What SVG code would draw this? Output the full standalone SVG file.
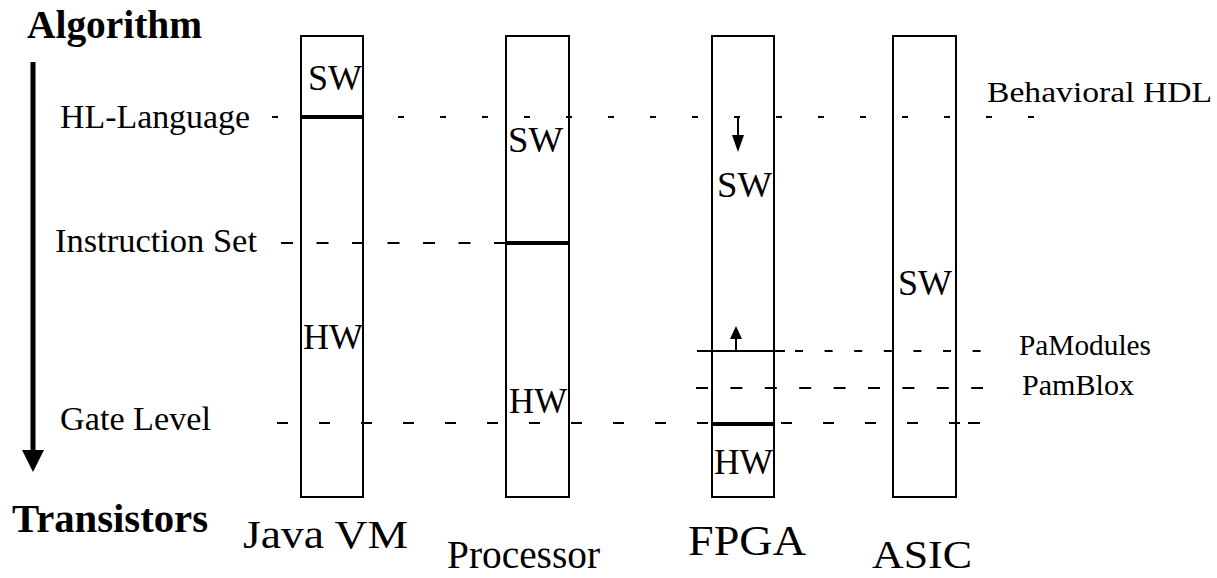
<svg xmlns="http://www.w3.org/2000/svg" width="1217" height="578" viewBox="0 0 1217 578">
<style>
text{font-family:"Liberation Serif","Times New Roman",serif;fill:#000}
.b{font-weight:bold}
.box{fill:none;stroke:#000;stroke-width:2}
.thick{stroke:#000;stroke-width:4}
.thin{stroke:#000;stroke-width:2}
.dash{stroke:#000;stroke-width:2;fill:none}
</style>
<rect width="1217" height="578" fill="#fff"/>
<g id="axis">
<line x1="33" y1="62" x2="33" y2="452" stroke="#000" stroke-width="5"/>
<polygon points="22,450 44,450 33,472" fill="#000"/>
<text class="b" x="27" y="38" font-size="39" textLength="175" lengthAdjust="spacingAndGlyphs">Algorithm</text>
<text class="b" x="12" y="532" font-size="40" textLength="196" lengthAdjust="spacingAndGlyphs">Transistors</text>
</g>
<g id="levels">
<text x="60" y="128" font-size="33" textLength="190" lengthAdjust="spacingAndGlyphs">HL-Language</text>
<text x="55" y="252" font-size="33" textLength="202" lengthAdjust="spacingAndGlyphs">Instruction Set</text>
<text x="60" y="430" font-size="33" textLength="151" lengthAdjust="spacingAndGlyphs">Gate Level</text>
<text x="987" y="102" font-size="30" textLength="225" lengthAdjust="spacingAndGlyphs">Behavioral HDL</text>
<text x="1019" y="355" font-size="29" textLength="132" lengthAdjust="spacingAndGlyphs">PaModules</text>
<text x="1022" y="395" font-size="29" textLength="112" lengthAdjust="spacingAndGlyphs">PamBlox</text>
</g>
<g id="connectors">
<line class="dash" x1="272" y1="117" x2="1034" y2="117" stroke-dasharray="6 36"/>
<line class="dash" x1="281" y1="243" x2="506" y2="243" stroke-dasharray="12 23.5"/>
<line class="dash" x1="277" y1="423" x2="960" y2="423" stroke-dasharray="11 31"/>
<line class="dash" x1="968" y1="423" x2="980" y2="423"/>
<line class="thin" x1="697" y1="351" x2="785" y2="351"/>
<line class="dash" x1="795" y1="351" x2="981" y2="351" stroke-dasharray="8 21.6"/>
<line class="dash" x1="696" y1="388" x2="983" y2="388" stroke-dasharray="12 22.4"/>
<line class="thin" x1="738" y1="116" x2="738" y2="136"/>
<polygon points="732,135 744,135 738,152" fill="#000"/>
<line class="thin" x1="736" y1="351" x2="736" y2="338"/>
<polygon points="730,339 742,339 736,326" fill="#000"/>
</g>
<g id="javavm">
<rect class="box" x="301" y="36" width="62" height="461"/>
<line class="thick" x1="300" y1="117" x2="364" y2="117"/>
<text x="308" y="90" font-size="35" textLength="54" lengthAdjust="spacingAndGlyphs">SW</text>
<text x="303" y="349" font-size="35" textLength="60" lengthAdjust="spacingAndGlyphs">HW</text>
<text x="243" y="548" font-size="40" textLength="165" lengthAdjust="spacingAndGlyphs">Java VM</text>
</g>
<g id="processor">
<rect class="box" x="506" y="36" width="63" height="461"/>
<line class="thick" x1="505" y1="243" x2="570" y2="243"/>
<text x="508" y="152" font-size="35" textLength="55" lengthAdjust="spacingAndGlyphs">SW</text>
<text x="509" y="413" font-size="35" textLength="58" lengthAdjust="spacingAndGlyphs">HW</text>
<text x="447" y="568" font-size="40" textLength="153" lengthAdjust="spacingAndGlyphs">Processor</text>
</g>
<g id="fpga">
<rect class="box" x="712" y="36" width="62" height="461"/>
<line class="thick" x1="711" y1="424" x2="775" y2="424"/>
<text x="717" y="197" font-size="35" textLength="55" lengthAdjust="spacingAndGlyphs">SW</text>
<text x="714" y="474" font-size="35" textLength="59" lengthAdjust="spacingAndGlyphs">HW</text>
<text x="688" y="555" font-size="43" textLength="118" lengthAdjust="spacingAndGlyphs">FPGA</text>
</g>
<g id="asic">
<rect class="box" x="893" y="36" width="63" height="461"/>
<text x="898" y="295" font-size="35" textLength="54" lengthAdjust="spacingAndGlyphs">SW</text>
<text x="872" y="568" font-size="40" textLength="100" lengthAdjust="spacingAndGlyphs">ASIC</text>
</g>
</svg>
